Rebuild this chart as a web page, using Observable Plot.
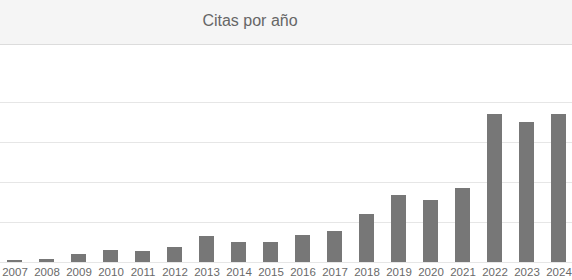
<!DOCTYPE html>
<html>
<head>
<meta charset="utf-8">
<script src="https://cdn.jsdelivr.net/npm/d3@7"></script>
<script src="https://cdn.jsdelivr.net/npm/@observablehq/plot@0.6"></script>
<style>
  html, body { margin: 0; padding: 0; background: #fff; }
  #wrap { width: 572px; height: 280px; overflow: hidden; font-family: Arial, "Liberation Sans", sans-serif; }
  #head {
    height: 44px; background: #f5f5f5; border-bottom: 1px solid #dcdcdc;
    box-sizing: content-box; position: relative;
  }
  #head span {
    position: absolute; left: 250px; top: 21px; transform: translate(-50%, -50%);
    font-size: 16px; color: #666; white-space: nowrap;
  }
  #chart { display: block; margin-top: 1px; }
</style>
</head>
<body>
<div id="wrap">
  <div id="head"><span>Citas por año</span></div>
  <div id="chart"></div>
</div>
<script>
// Citations per year
const years = ["2007","2008","2009","2010","2011","2012","2013","2014","2015","2016","2017","2018","2019","2020","2021","2022","2023","2024"];
const citations = [2, 3, 8, 12, 11, 15, 26, 20, 20, 27, 31, 48, 67, 62, 74, 148, 140, 148];
const gridValues = [0, 40, 80, 120, 160];

const data = years.map((year, i) => ({year, count: citations[i]}));

const chart = Plot.plot({
  width: 572,
  height: 234,
  marginLeft: 0,
  marginRight: 0,
  marginTop: 0,
  marginBottom: 18,
  style: {fontFamily: "Arial, 'Liberation Sans', sans-serif", background: "transparent", overflow: "visible"},
  x: {domain: years, range: [-1.5, 574.5], paddingInner: 0.53, paddingOuter: 0.265, label: null},
  y: {domain: [0, 160], range: [216, 56], label: null},
  marks: [
    Plot.ruleY(gridValues, {stroke: "#e6e6e6", strokeWidth: 1}),
    Plot.barY(data, {x: "year", y: "count", fill: "#777777"}),
    Plot.axisX({tickSize: 0, tickPadding: 5, fontSize: 11.5, fill: "#6a6a6a", label: null}),
    Plot.axisY({ticks: [], label: null})
  ]
});
document.getElementById("chart").appendChild(chart);
</script>
</body>
</html>
